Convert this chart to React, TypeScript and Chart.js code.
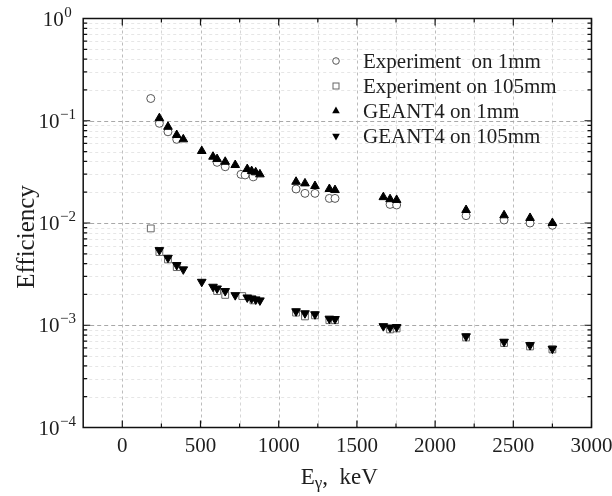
import React, { useEffect, useRef } from 'react';
import { Chart, registerables } from 'chart.js';

Chart.register(...registerables);

// ---- data ----
const g4Energies = [237, 292, 348, 390, 508, 580, 606, 658, 722, 799, 827, 853, 880, 1111, 1168, 1232, 1324, 1360, 1669, 1712, 1754, 2198, 2441, 2607, 2750];
const g4Eff1mm = [0.106, 0.0873, 0.0725, 0.0658, 0.0506, 0.0445, 0.0422, 0.0397, 0.0369, 0.0337, 0.0322, 0.0313, 0.0299, 0.0253, 0.0244, 0.023, 0.0215, 0.021, 0.0179, 0.0171, 0.0168, 0.0134, 0.0119, 0.0112, 0.01];
const g4Eff105mm = [0.00543, 0.00457, 0.00388, 0.00352, 0.00266, 0.00238, 0.00229, 0.00216, 0.00197, 0.00187, 0.00183, 0.00179, 0.00175, 0.00137, 0.00131, 0.00128, 0.00116, 0.00115, 0.00098, 0.00095, 0.00096, 0.00078, 0.00069, 0.00064, 0.00059];

const exp1Energies = [182, 237, 292, 348, 606, 658, 759, 785, 838, 1111, 1168, 1232, 1324, 1360, 1712, 1754, 2198, 2441, 2607, 2750];
const exp1Eff = [0.165, 0.0944, 0.078, 0.0658, 0.0392, 0.0355, 0.0299, 0.0295, 0.0283, 0.0215, 0.0195, 0.0195, 0.0174, 0.0174, 0.0152, 0.015, 0.0118, 0.0107, 0.01, 0.0095];

const exp105Energies = [182, 237, 292, 348, 606, 658, 767, 838, 1111, 1168, 1232, 1324, 1360, 1712, 1754, 2198, 2441, 2607, 2750];
const exp105Eff = [0.00885, 0.0052, 0.0044, 0.0037, 0.00216, 0.00198, 0.00193, 0.00175, 0.00133, 0.00122, 0.00125, 0.00112, 0.00112, 0.00091, 0.00093, 0.00076, 0.00067, 0.00062, 0.00058];

const xTickLabels = [0, 500, 1000, 1500, 2000, 2500, 3000];
const yDecades = [0, -1, -2, -3, -4];
const legendLabels = ['Experiment  on 1mm', 'Experiment on 105mm', 'GEANT4 on 1mm', 'GEANT4 on 105mm'];
const xTitleMain = 'E';
const xTitleSub = 'γ';
const xTitleRest = ',  keV';
const yTitle = 'Efficiency';

const FONT = "'Liberation Serif', 'Times New Roman', serif";
const TEXT = '#1e1e1e';

const toXY = (xs: number[], ys: number[]) => xs.map((x, i) => ({ x, y: ys[i] }));

const framePlugin = {
  id: 'framePlugin',
  beforeDatasetsDraw(chart: any) {
    const { ctx, chartArea: a, scales } = chart;
    const xs = scales.x;
    const ys = scales.y;
    ctx.save();
    ctx.lineWidth = 1;
    // vertical grid
    for (let v = 0; v < 3000; v += 250) {
      const px = Math.round(xs.getPixelForValue(v)) + 0.5;
      ctx.strokeStyle = v % 500 === 0 ? '#bcbcbc' : '#d6d6d6';
      ctx.setLineDash([3, 3]);
      ctx.beginPath();
      ctx.moveTo(px, a.top);
      ctx.lineTo(px, a.bottom);
      ctx.stroke();
    }
    // horizontal grid
    for (let d = -4; d < 0; d++) {
      for (let m = 1; m <= 9; m++) {
        if (d === -4 && m === 1) continue;
        const v = m * Math.pow(10, d);
        const py = Math.round(ys.getPixelForValue(v)) + 0.5;
        ctx.strokeStyle = m === 1 ? '#a8a8a8' : '#e6e6e6';
        ctx.setLineDash(m === 1 ? [4, 3] : [3, 3]);
        ctx.beginPath();
        ctx.moveTo(a.left, py);
        ctx.lineTo(a.right, py);
        ctx.stroke();
      }
    }
    ctx.restore();
  },
  afterDraw(chart: any) {
    const { ctx, chartArea: a, scales } = chart;
    const xs = scales.x;
    const ys = scales.y;
    ctx.save();
    ctx.setLineDash([]);
    ctx.strokeStyle = '#111';
    ctx.lineWidth = 1.5;
    ctx.strokeRect(a.left, a.top, a.right - a.left, a.bottom - a.top);

    // ticks (inward) on x
    ctx.lineWidth = 1.2;
    for (let v = 0; v <= 3000; v += 250) {
      const px = xs.getPixelForValue(v);
      const len = v % 500 === 0 ? 7 : 4;
      ctx.beginPath();
      ctx.moveTo(px, a.bottom);
      ctx.lineTo(px, a.bottom - len);
      ctx.moveTo(px, a.top);
      ctx.lineTo(px, a.top + len);
      ctx.stroke();
    }
    // ticks on y
    for (let d = -4; d <= 0; d++) {
      for (let m = 1; m <= 9; m++) {
        if (d === 0 && m > 1) continue;
        const v = m * Math.pow(10, d);
        const py = ys.getPixelForValue(v);
        const len = m === 1 ? 7 : 4;
        ctx.beginPath();
        ctx.moveTo(a.left, py);
        ctx.lineTo(a.left + len, py);
        ctx.moveTo(a.right, py);
        ctx.lineTo(a.right - len, py);
        ctx.stroke();
      }
    }

    // y tick labels with superscripts
    ctx.fillStyle = TEXT;
    ctx.textBaseline = 'alphabetic';
    ctx.textAlign = 'left';
    const labelCenter = 57;
    yDecades.forEach((d) => {
      const py = ys.getPixelForValue(Math.pow(10, d));
      const sup = d === 0 ? '0' : '\u2212' + Math.abs(d);
      ctx.font = `15px ${FONT}`;
      const w2 = ctx.measureText(sup).width;
      ctx.font = `21px ${FONT}`;
      const w1 = ctx.measureText('10').width;
      const x0 = labelCenter - (w1 + w2) / 2;
      ctx.fillText('10', x0, py + 7);
      ctx.font = `15px ${FONT}`;
      ctx.fillText(sup, x0 + w1 + 0.5, py - 2);
    });

    // y title
    ctx.save();
    ctx.font = `25px ${FONT}`;
    ctx.textAlign = 'center';
    ctx.textBaseline = 'middle';
    ctx.translate(27, (a.top + a.bottom) / 2 + 14);
    ctx.rotate(-Math.PI / 2);
    ctx.fillText(yTitle, 0, 0);
    ctx.restore();

    // x title
    ctx.textAlign = 'left';
    ctx.textBaseline = 'alphabetic';
    ctx.font = `23px ${FONT}`;
    const wE = ctx.measureText(xTitleMain).width;
    const wR = ctx.measureText(xTitleRest).width;
    ctx.font = `17px ${FONT}`;
    const wG = ctx.measureText(xTitleSub).width;
    const total = wE + wG + wR;
    const cx = (a.left + a.right) / 2 + 2;
    const base = 484;
    let tx = cx - total / 2;
    ctx.font = `23px ${FONT}`;
    ctx.fillText(xTitleMain, tx, base);
    tx += wE;
    ctx.font = `17px ${FONT}`;
    ctx.fillText(xTitleSub, tx, base + 4);
    tx += wG;
    ctx.font = `23px ${FONT}`;
    ctx.fillText(xTitleRest, tx, base);

    // legend
    const mx = 336;
    const lx = 363;
    const rows = [61, 86, 111, 136];
    ctx.font = `21px ${FONT}`;
    ctx.textBaseline = 'middle';
    legendLabels.forEach((lab, i) => {
      const y = rows[i];
      ctx.fillStyle = TEXT;
      ctx.fillText(lab, lx, y + 1);
      ctx.lineWidth = 1;
      if (i === 0) {
        ctx.strokeStyle = '#555';
        ctx.beginPath();
        ctx.arc(mx, y, 3.3, 0, Math.PI * 2);
        ctx.stroke();
      } else if (i === 1) {
        ctx.strokeStyle = '#666';
        ctx.strokeRect(mx - 3, y - 3, 6, 6);
      } else {
        const r = 4.4;
        const dir = i === 2 ? 1 : -1;
        ctx.fillStyle = '#000';
        ctx.beginPath();
        ctx.moveTo(mx, y - dir * r);
        ctx.lineTo(mx + r * 0.866, y + dir * r * 0.5);
        ctx.lineTo(mx - r * 0.866, y + dir * r * 0.5);
        ctx.closePath();
        ctx.fill();
      }
    });
    ctx.restore();
  },
};

export default function App() {
  const canvasRef = useRef<HTMLCanvasElement | null>(null);

  useEffect(() => {
    const canvas = canvasRef.current;
    if (!canvas) return;
    const chart = new Chart(canvas, {
      type: 'scatter',
      data: {
        datasets: [
          {
            label: legendLabels[0],
            data: toXY(exp1Energies, exp1Eff),
            pointStyle: 'circle',
            pointRadius: 4,
            borderColor: '#555',
            backgroundColor: '#ffffff',
            borderWidth: 1,
            order: 3,
          },
          {
            label: legendLabels[1],
            data: toXY(exp105Energies, exp105Eff),
            pointStyle: 'rect',
            pointRadius: 4.8,
            borderColor: '#666',
            backgroundColor: '#ffffff',
            borderWidth: 1,
            order: 3,
          },
          {
            label: legendLabels[2],
            data: toXY(g4Energies, g4Eff1mm),
            pointStyle: 'triangle',
            pointRadius: 5,
            borderColor: '#000',
            backgroundColor: '#000',
            borderWidth: 1,
            order: 1,
          },
          {
            label: legendLabels[3],
            data: toXY(g4Energies, g4Eff105mm),
            pointStyle: 'triangle',
            rotation: 180,
            pointRadius: 5,
            borderColor: '#000',
            backgroundColor: '#000',
            borderWidth: 1,
            order: 1,
          },
        ],
      },
      options: {
        animation: false,
        responsive: false,
        devicePixelRatio: 1,
        layout: { padding: { left: 0, top: 18.5, right: 20.5, bottom: 0 } },
        plugins: {
          legend: { display: false },
          tooltip: { enabled: false },
          title: { display: false },
        },
        scales: {
          x: {
            type: 'linear',
            min: -250,
            max: 3000,
            grid: { display: false, drawTicks: false },
            border: { display: false },
            ticks: {
              stepSize: 250,
              autoSkip: false,
              maxRotation: 0,
              padding: 6,
              color: TEXT,
              font: { family: FONT, size: 21 },
              callback: (v: any) => (xTickLabels.includes(Number(v)) ? String(v) : ''),
            },
            afterFit: (s: any) => {
              s.height = 68.5;
              s.paddingLeft = 0;
              s.paddingRight = 0;
            },
          },
          y: {
            type: 'logarithmic',
            min: 1e-4,
            max: 1,
            grid: { display: false, drawTicks: false },
            border: { display: false },
            ticks: { display: false },
            afterFit: (s: any) => {
              s.width = 83.2;
              s.paddingTop = 0;
              s.paddingBottom = 0;
            },
          },
        },
      },
      plugins: [framePlugin],
    } as any);
    return () => chart.destroy();
  }, []);

  return (
    <div style={{ position: 'fixed', left: 0, top: 0, width: 612, height: 496, background: '#fff' }}>
      <canvas ref={canvasRef} width={612} height={496} style={{ width: 612, height: 496, display: 'block' }} />
    </div>
  );
}
